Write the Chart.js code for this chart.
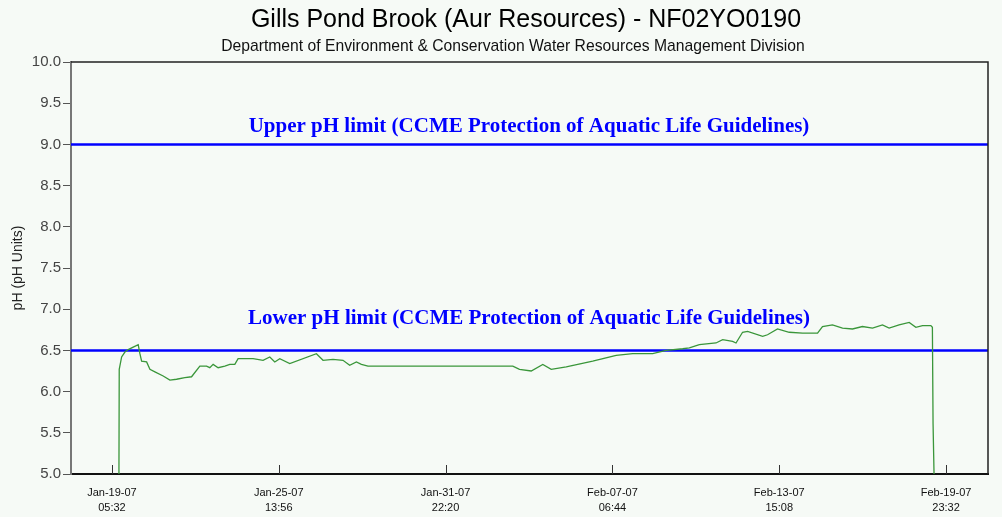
<!DOCTYPE html>
<html>
<head>
<meta charset="utf-8">
<script src="https://cdn.jsdelivr.net/npm/chart.js@4/dist/chart.umd.min.js"></script>
<style>
  html, body { margin: 0; padding: 0; background: #f6faf6; }
  #wrap { width: 1002px; height: 517px; }
</style>
</head>
<body>
<div id="wrap"><canvas id="phChart" width="1002" height="517"></canvas></div>
<script>
// hours since Jan-19-07 05:32
const hours = [6.39, 6.66, 8.85, 11.86, 14.88, 19.44, 24.0, 25.55, 27.10, 31.67, 34.68, 39.24,
    46.81, 52.93, 59.04, 66.62, 72.73, 80.31, 86.42, 89.43, 92.44, 97.01, 103.12, 107.68,
    112.25, 115.26, 128.95, 138.07, 144.19, 148.75, 153.31, 162.44, 186.80, 192.83, 201.95,
    211.08, 217.19, 223.31, 227.87, 233.89, 366.2, 372.3, 383.0, 393.6, 401.3, 415.0, 439.2,
    460.6, 475.7, 494.0, 506.2, 521.4, 527.5, 536.6, 551.8, 557.9, 567.0, 570.1, 576.1, 580.7,
    594.4, 598.9, 608.0, 618.7, 630.9, 644.6, 649.1, 658.2, 667.4, 676.5, 685.6, 694.8, 703.9,
    710.0, 719.1, 728.3, 734.4, 740.5, 748.1, 749.5, 750.1, 751.0];
const phValues = [5.0, 6.27, 6.42, 6.48, 6.51, 6.54, 6.57, 6.46, 6.37, 6.36, 6.27, 6.24,
    6.19, 6.14, 6.15, 6.17, 6.18, 6.31, 6.31, 6.29, 6.33, 6.29, 6.31, 6.33,
    6.33, 6.40, 6.40, 6.38, 6.42, 6.36, 6.40, 6.34, 6.46, 6.38, 6.39,
    6.38, 6.32, 6.36, 6.33, 6.31, 6.31, 6.27, 6.25, 6.33, 6.27, 6.30, 6.37,
    6.44, 6.46, 6.46, 6.50, 6.52, 6.53, 6.57, 6.59, 6.63, 6.61, 6.59, 6.72, 6.73,
    6.67, 6.69, 6.76, 6.72, 6.71, 6.71, 6.79, 6.81, 6.77, 6.76, 6.79, 6.77, 6.81,
    6.77, 6.81, 6.84, 6.78, 6.80, 6.80, 6.78, 5.62, 5.0];

const tickHours = [0, 152.4, 304.8, 457.2, 609.6, 762.0];
const tickDates = ['Jan-19-07', 'Jan-25-07', 'Jan-31-07', 'Feb-07-07', 'Feb-13-07', 'Feb-19-07'];
const tickTimes = ['05:32', '13:56', '22:20', '06:44', '15:08', '23:32'];

const limitValues = [9.0, 6.5];
const limitLabels = [
    'Upper pH limit (CCME Protection of Aquatic Life Guidelines)',
    'Lower pH limit (CCME Protection of Aquatic Life Guidelines)'
];
const limitLabelGap = [12, 26];

const titleText = 'Gills Pond Brook (Aur Resources) - NF02YO0190';
const subtitleText = 'Department of Environment & Conservation Water Resources Management Division';

const decorPlugin = {
    id: 'decor',
    beforeDatasetsDraw(chart) {
        const ctx = chart.ctx;
        const area = chart.chartArea;
        const y = chart.scales.y;
        ctx.save();
        ctx.strokeStyle = '#0000ff';
        ctx.lineWidth = 2.5;
        limitValues.forEach(v => {
            const py = Math.round(y.getPixelForValue(v)) + 0.5;
            ctx.beginPath();
            ctx.moveTo(area.left, py);
            ctx.lineTo(area.right, py);
            ctx.stroke();
        });
        ctx.restore();
    },
    afterDraw(chart) {
        const ctx = chart.ctx;
        const area = chart.chartArea;
        const x = chart.scales.x;
        const y = chart.scales.y;
        ctx.save();

        // frame top and right
        ctx.strokeStyle = '#222';
        ctx.lineWidth = 1.5;
        ctx.beginPath();
        ctx.moveTo(area.left, area.top);
        ctx.lineTo(area.right, area.top);
        ctx.lineTo(area.right, area.bottom);
        ctx.stroke();

        // inward x ticks
        ctx.strokeStyle = '#333';
        ctx.lineWidth = 1;
        tickHours.forEach(h => {
            const px = Math.round(x.getPixelForValue(h)) + 0.5;
            ctx.beginPath();
            ctx.moveTo(px, area.bottom);
            ctx.lineTo(px, area.bottom - 9);
            ctx.stroke();
        });

        // limit labels
        ctx.fillStyle = '#0000ff';
        ctx.font = 'bold 21px "Liberation Serif", "Times New Roman", serif';
        ctx.textAlign = 'center';
        ctx.textBaseline = 'alphabetic';
        limitValues.forEach((v, i) => {
            ctx.fillText(limitLabels[i], 529, y.getPixelForValue(v) - limitLabelGap[i]);
        });

        // titles
        ctx.fillStyle = '#000';
        ctx.font = '25px "Liberation Sans", Arial, sans-serif';
        ctx.fillText(titleText, 526, 27);
        ctx.font = '15.7px "Liberation Sans", Arial, sans-serif';
        ctx.fillStyle = '#111';
        ctx.fillText(subtitleText, 513, 51);
        ctx.restore();
    }
};

new Chart(document.getElementById('phChart'), {
    type: 'line',
    data: {
        datasets: [{
            label: 'pH',
            data: hours.map((h, i) => ({ x: h, y: phValues[i] })),
            borderColor: '#3a963a',
            borderWidth: 1.3,
            pointRadius: 0,
            tension: 0,
            fill: false
        }]
    },
    options: {
        responsive: false,
        animation: false,
        layout: { padding: { top: 62, right: 14, left: 0, bottom: 0 } },
        plugins: {
            legend: { display: false },
            tooltip: { enabled: false }
        },
        scales: {
            x: {
                type: 'linear',
                min: -37.4,
                max: 800.3,
                afterBuildTicks: scale => {
                    scale.ticks = tickHours.map(v => ({ value: v }));
                },
                afterFit: scale => { scale.height = 43; },
                grid: { display: false },
                border: { display: true, color: '#111', width: 2 },
                ticks: {
                    autoSkip: false,
                    maxRotation: 0,
                    padding: 4,
                    color: '#111',
                    font: { family: '"Liberation Sans", Arial, sans-serif', size: 11, lineHeight: 1.35 },
                    callback: (v, i) => [tickDates[i], tickTimes[i]]
                }
            },
            y: {
                min: 5,
                max: 10,
                afterFit: scale => { scale.width = 71; },
                title: {
                    display: true,
                    text: 'pH (pH Units)',
                    color: '#222',
                    padding: { top: 10, bottom: 0 },
                    font: { family: '"Liberation Sans", Arial, sans-serif', size: 14 }
                },
                grid: {
                    drawOnChartArea: false,
                    drawTicks: true,
                    tickLength: 8,
                    tickColor: '#555'
                },
                border: { display: true, color: '#777', width: 2 },
                ticks: {
                    stepSize: 0.25,
                    padding: 2,
                    color: '#444',
                    font: { family: '"Liberation Sans", Arial, sans-serif', size: 15 },
                    callback: v => (Math.abs(v * 2 - Math.round(v * 2)) < 1e-6 ? v.toFixed(1) : '')
                }
            }
        }
    },
    plugins: [decorPlugin]
});
</script>
</body>
</html>
